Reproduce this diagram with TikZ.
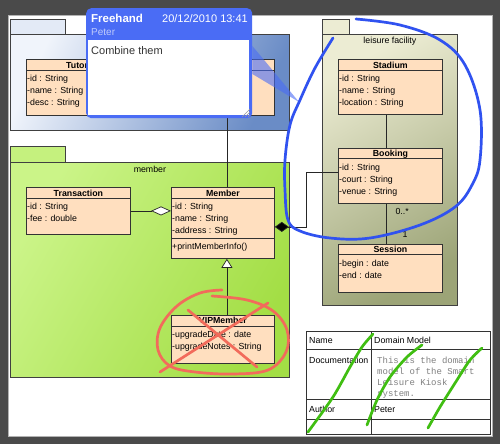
\documentclass[tikz,border=0pt]{standalone}
\usepackage{fontspec}
\setmainfont{Liberation Sans}
\setmonofont{Liberation Mono}
\usetikzlibrary{arrows.meta,positioning}

\definecolor{canvasgray}{HTML}{4A4A4A}
\definecolor{classfill}{HTML}{FFDFBF}
\definecolor{noteblue}{HTML}{4A6CF5}
\definecolor{penblue}{HTML}{3052F0}
\definecolor{penred}{HTML}{F26B5B}
\definecolor{pengreen}{HTML}{40BE12}
\definecolor{tutorlight}{HTML}{F0F4FB}
\definecolor{tutordark}{HTML}{6A8CC6}
\definecolor{memberlight}{HTML}{CBF488}
\definecolor{memberdark}{HTML}{A3DE45}
\definecolor{leisurelight}{HTML}{ECECD3}
\definecolor{leisuredark}{HTML}{9CA477}

\begin{document}
\begin{tikzpicture}[
    x=1pt, y=-1pt,
    font=\fontsize{8.8}{12}\selectfont,
    pkg/.style={draw=black!75, line width=0.8pt, anchor=north west, inner sep=0pt},
    pkgtab/.style={pkg, minimum width=55pt, minimum height=15pt},
    umlclass/.style={draw=black!80, line width=0.8pt, fill=classfill, anchor=north west, minimum width=104pt, inner sep=0pt},
    cname/.style={anchor=base, inner sep=0pt, font=\fontsize{8.8}{12}\selectfont\bfseries},
    attrs/.style={anchor=north west, align=left, inner sep=1pt},
    cell/.style={anchor=base west, inner sep=0pt},
    link/.style={draw=black!85, line width=0.7pt},
    pen/.style={line width=2.7pt, line cap=round, line join=round}
]
\useasboundingbox (0,0) rectangle (500,444);
\fill[canvasgray] (0,0) rectangle (500,444);
\filldraw[fill=white, draw=black!30] (8,15) rectangle (492,436);

% tutor package
\node[pkgtab, fill=tutorlight!90!tutordark] (tutortab) at (10,19) {};
\node[pkg, minimum width=279pt, minimum height=96pt, top color=tutorlight, bottom color=tutordark, shading angle=65] (tutorpkg) at (10,34) {};
\node[umlclass, minimum width=248pt, minimum height=56pt] (tutor) at (26,59) {};
\node[cname, anchor=base west] at ([xshift=40pt,yshift=-9pt]tutor.north west) {Tutor};
\draw[black!80, line width=0.8pt] ([yshift=-11pt]tutor.north west) -- ([yshift=-11pt]tutor.north east);
\node[attrs] at ([yshift=-15pt]tutor.north west) {-id : String\\-name : String\\-desc : String};

% leisure facility package
\node[pkgtab, minimum width=27pt, fill=leisurelight] (leisuretab) at (322,19) {};
\node[pkg, minimum width=135pt, minimum height=271pt, top color=leisurelight, bottom color=leisuredark, shading angle=30] (leisurepkg) at (322,34) {};
\node[anchor=base, inner sep=0pt] at ([yshift=-10pt]leisurepkg.north) {leisure facility};

\node[umlclass, minimum height=55pt] (stadium) at (338,59) {};
\node[cname] at ([yshift=-9pt]stadium.north) {Stadium};
\draw[black!80, line width=0.8pt] ([yshift=-11pt]stadium.north west) -- ([yshift=-11pt]stadium.north east);
\node[attrs] at ([yshift=-15pt]stadium.north west) {-id : String\\-name : String\\-location : String};

\node[umlclass, minimum height=55pt, below=33pt of stadium] (booking) {};
\node[cname] at ([yshift=-9pt]booking.north) {Booking};
\draw[black!80, line width=0.8pt] ([yshift=-11pt]booking.north west) -- ([yshift=-11pt]booking.north east);
\node[attrs] at ([yshift=-15pt]booking.north west) {-id : String\\-court : String\\-venue : String};

\node[umlclass, minimum height=48pt, below=40pt of booking] (session) {};
\node[cname] at ([yshift=-9pt]session.north) {Session};
\draw[black!80, line width=0.8pt] ([yshift=-11pt]session.north west) -- ([yshift=-11pt]session.north east);
\node[attrs] at ([yshift=-15pt]session.north west) {-begin : date\\-end : date};

% member package
\node[pkgtab, minimum height=16pt, fill=memberlight!85!memberdark] (membertab) at (10,146) {};
\node[pkg, minimum width=279pt, minimum height=215pt, top color=memberlight, bottom color=memberdark, shading angle=60] (memberpkg) at (10,162) {};
\node[anchor=base, inner sep=0pt] at ([yshift=-10pt]memberpkg.north) {member};

\node[umlclass, minimum height=47pt] (transaction) at (26,187) {};
\node[cname] at ([yshift=-9pt]transaction.north) {Transaction};
\draw[black!80, line width=0.8pt] ([yshift=-11pt]transaction.north west) -- ([yshift=-11pt]transaction.north east);
\node[attrs] at ([yshift=-15pt]transaction.north west) {-id : String\\-fee : double};

\node[umlclass, minimum width=103pt, minimum height=71pt] (member) at (171,187) {};
\node[cname] at ([yshift=-9pt]member.north) {Member};
\draw[black!80, line width=0.8pt] ([yshift=-11pt]member.north west) -- ([yshift=-11pt]member.north east);
\node[attrs] at ([yshift=-15pt]member.north west) {-id : String\\-name : String\\-address : String};
\draw[black!80, line width=0.8pt] ([yshift=-51pt]member.north west) -- ([yshift=-51pt]member.north east);
\node[cell] at ([xshift=1pt,yshift=-62pt]member.north west) {+printMemberInfo()};

\node[umlclass, minimum width=103pt, minimum height=48pt, below=56pt of member] (vipmember) {};
\node[cname] at ([yshift=-9pt]vipmember.north) {VIPMember};
\draw[black!80, line width=0.8pt] ([yshift=-12pt]vipmember.north west) -- ([yshift=-12pt]vipmember.north east);
\node[attrs] at ([yshift=-15pt]vipmember.north west) {-upgradeDate : date\\-upgradeNotes : String};

% links
\draw[link] ([xshift=4pt]tutor.south -| member.north) -- ([xshift=4pt]member.north);
\draw[link] ([xshift=-4pt]stadium.south) -- ([xshift=-4pt]booking.north);
\draw[link] ([xshift=-4pt]booking.south) -- ([xshift=-4pt]session.north);
\node[anchor=base west, inner sep=0pt] at ([xshift=5pt,yshift=-11pt]booking.south) {0..*};
\node[anchor=base west, inner sep=0pt] at ([xshift=12pt,yshift=6pt]session.north) {1};
\draw[link, -{Diamond[open, fill=white, length=20pt, width=9pt]}] (transaction.east) -- (transaction.east -| member.west);
\draw[link, -{Diamond[fill=black, length=14pt, width=10pt]}] ([yshift=3.5pt]booking.west) -- ++(-32,0) |- ([yshift=-4pt]member.east);
\draw[link, -{Triangle[open, fill=white, length=9pt, width=11pt]}] ([xshift=4pt]vipmember.north) -- ([xshift=4pt]member.south);

% property table
\node[draw=black!80, line width=0.8pt, anchor=north west, minimum width=184pt, minimum height=103pt, inner sep=0pt] (proptable) at (306,331) {};
\draw[black!80, line width=0.8pt] ([xshift=65pt]proptable.north west) -- ([xshift=65pt]proptable.south west);
\draw[black!80, line width=0.8pt] ([yshift=-18pt]proptable.north west) -- ([yshift=-18pt]proptable.north east);
\draw[black!80, line width=0.8pt] ([yshift=-68pt]proptable.north west) -- ([yshift=-68pt]proptable.north east);
\draw[black!80, line width=0.8pt] ([yshift=-88pt]proptable.north west) -- ([yshift=-88pt]proptable.north east);
\node[cell] at (309,343) {Name};
\node[cell] at (374,343) {Domain Model};
\node[cell] at (309,363) {Documentation};
\node[anchor=north west, align=left, inner sep=0pt, text=black!50, font=\ttfamily\fontsize{9}{11}\selectfont] at (377,357) {This is the domain\\model of the Smart\\Leisure Kiosk\\system.};
\node[cell] at (309,412) {Author};
\node[cell] at (374,412) {Peter};

% freehand note
\coordinate (notetip) at (299,102);
\node[fill=noteblue, rounded corners=5pt, anchor=north west, minimum width=166pt, minimum height=110pt, inner sep=0pt] (note) at (86,8) {};
\fill[noteblue, opacity=0.6] ([yshift=-38pt]note.north east) -- (notetip) -- ([yshift=-66pt]note.north east) -- cycle;
\node[fill=white, anchor=north west, minimum width=161pt, minimum height=75pt, inner sep=0pt] (notebody) at (88,40) {};
\node[anchor=base west, inner sep=0pt, text=white, font=\fontsize{11.5}{13}\selectfont\bfseries] at (91,23) {Freehand};
\node[anchor=base east, inner sep=0pt, text=white, font=\fontsize{11}{13}\selectfont] at (248,23) {20/12/2010 13:41};
\node[anchor=base west, inner sep=0pt, text=noteblue!35, font=\fontsize{10}{12}\selectfont] at (91,36) {Peter};
\node[anchor=base west, inner sep=0pt, text=black!80, font=\fontsize{11}{13}\selectfont] at (91,55) {Combine them};
\draw[black!40] (242,117) -- (250,109) (245,117) -- (250,112) (248,117) -- (250,115);

% pen strokes
\draw[pen, penblue] plot[smooth, tension=0.6] coordinates {(356,19) (400,25) (440,40) (465,65) (480,110) (480,160) (472,185) (455,207) (420,225) (370,238) (330,238) (300,231) (288,220) (285,190) (285,160) (290,125) (300,100) (315,68) (333,38)};
\draw[pen, penred] plot[smooth, tension=0.6] coordinates {(222,290) (200,293) (177,306) (160,328) (158,350) (170,366) (195,372) (233,374) (268,370) (286,352) (287,330) (273,311) (247,300) (212,296)};
\draw[pen, penred] (188,310) -- (257,367);
\draw[pen, penred] (268,303) -- (160,372);
\draw[pen, pengreen] plot[smooth] coordinates {(308,432) (333,397) (350,367) (362,347) (373,334)};
\draw[pen, pengreen] plot[smooth] coordinates {(367,425) (377,400) (390,377) (407,357) (422,345)};
\draw[pen, pengreen] plot[smooth] coordinates {(428,428) (440,407) (457,380) (470,360) (482,348)};
\end{tikzpicture}
\end{document}
